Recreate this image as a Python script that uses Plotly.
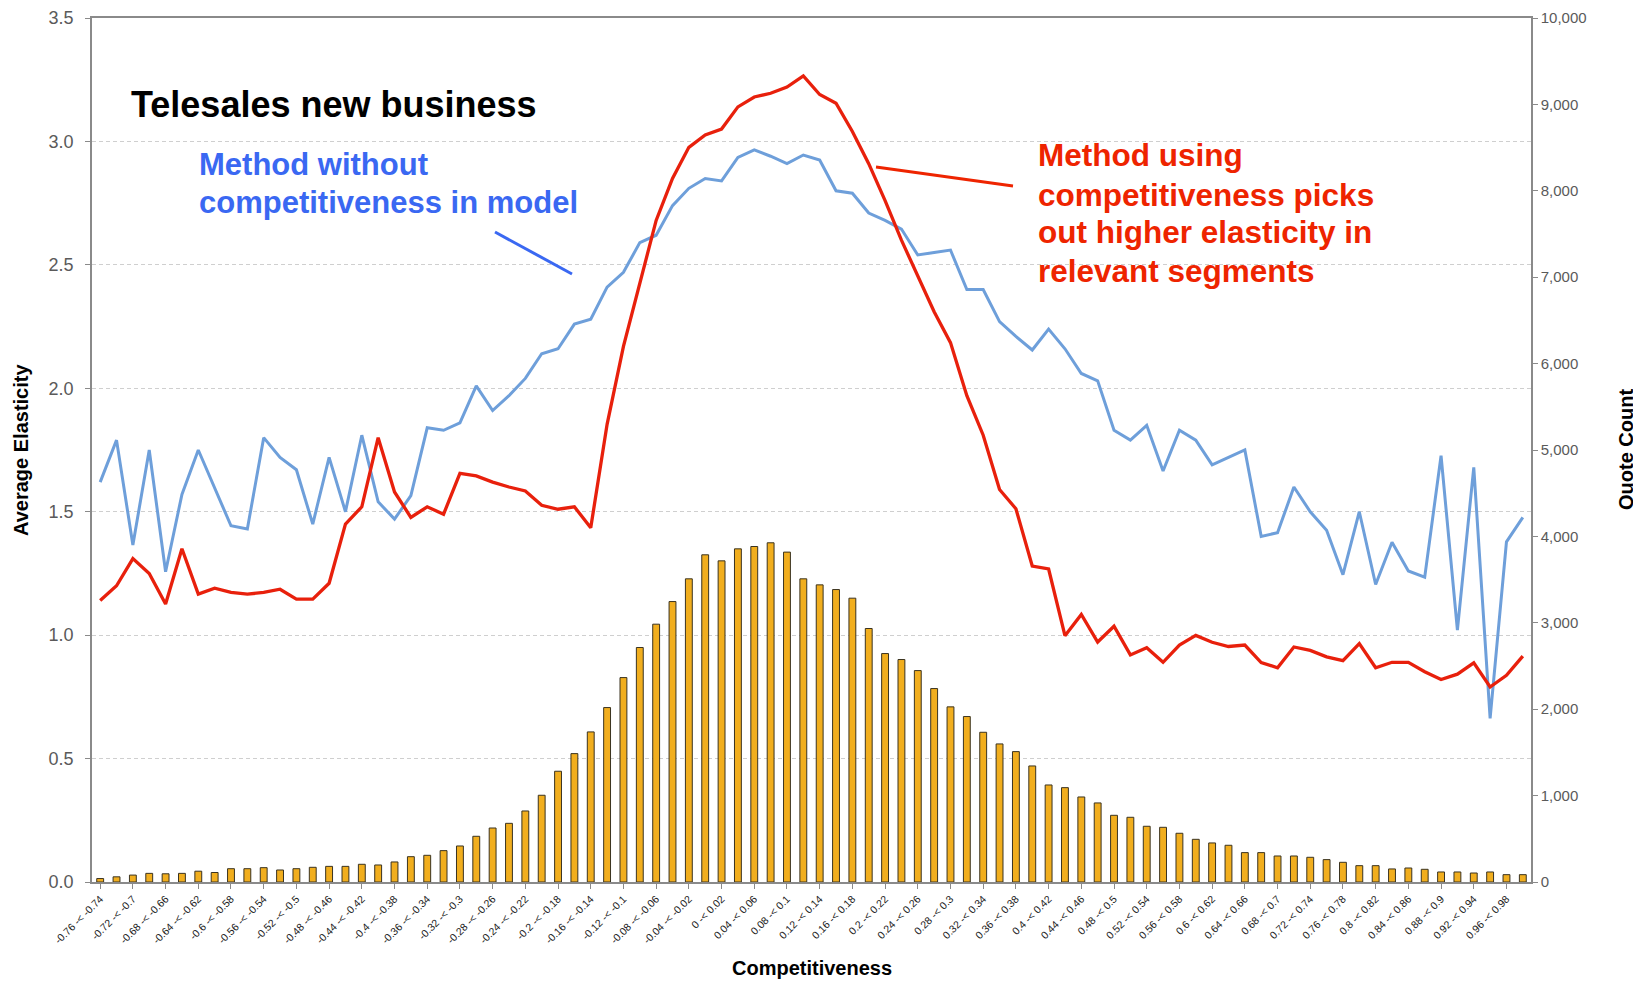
import plotly.graph_objects as go

categories = [
    "-0.76 -< -0.74", "-0.74 -< -0.72", "-0.72 -< -0.7", "-0.7 -< -0.68",
    "-0.68 -< -0.66", "-0.66 -< -0.64", "-0.64 -< -0.62", "-0.62 -< -0.6",
    "-0.6 -< -0.58", "-0.58 -< -0.56", "-0.56 -< -0.54", "-0.54 -< -0.52",
    "-0.52 -< -0.5", "-0.5 -< -0.48", "-0.48 -< -0.46", "-0.46 -< -0.44",
    "-0.44 -< -0.42", "-0.42 -< -0.4", "-0.4 -< -0.38", "-0.38 -< -0.36",
    "-0.36 -< -0.34", "-0.34 -< -0.32", "-0.32 -< -0.3", "-0.3 -< -0.28",
    "-0.28 -< -0.26", "-0.26 -< -0.24", "-0.24 -< -0.22", "-0.22 -< -0.2",
    "-0.2 -< -0.18", "-0.18 -< -0.16", "-0.16 -< -0.14", "-0.14 -< -0.12",
    "-0.12 -< -0.1", "-0.1 -< -0.08", "-0.08 -< -0.06", "-0.06 -< -0.04",
    "-0.04 -< -0.02", "-0.02 -< 0", "0 -< 0.02", "0.02 -< 0.04",
    "0.04 -< 0.06", "0.06 -< 0.08", "0.08 -< 0.1", "0.1 -< 0.12",
    "0.12 -< 0.14", "0.14 -< 0.16", "0.16 -< 0.18", "0.18 -< 0.2",
    "0.2 -< 0.22", "0.22 -< 0.24", "0.24 -< 0.26", "0.26 -< 0.28",
    "0.28 -< 0.3", "0.3 -< 0.32", "0.32 -< 0.34", "0.34 -< 0.36",
    "0.36 -< 0.38", "0.38 -< 0.4", "0.4 -< 0.42", "0.42 -< 0.44",
    "0.44 -< 0.46", "0.46 -< 0.48", "0.48 -< 0.5", "0.5 -< 0.52",
    "0.52 -< 0.54", "0.54 -< 0.56", "0.56 -< 0.58", "0.58 -< 0.6",
    "0.6 -< 0.62", "0.62 -< 0.64", "0.64 -< 0.66", "0.66 -< 0.68",
    "0.68 -< 0.7", "0.7 -< 0.72", "0.72 -< 0.74", "0.74 -< 0.76",
    "0.76 -< 0.78", "0.78 -< 0.8", "0.8 -< 0.82", "0.82 -< 0.84",
    "0.84 -< 0.86", "0.86 -< 0.88", "0.88 -< 0.9", "0.9 -< 0.92",
    "0.92 -< 0.94", "0.94 -< 0.96", "0.96 -< 0.98", "0.98 -< 1",
]

# Quote count (right axis)
quote_count = [
    40, 60, 80, 100, 95, 100, 125, 110, 154, 154,
    166, 139, 154, 170, 181, 181, 205, 197, 232, 293,
    309, 363, 417, 529, 625, 679, 822, 1004, 1282, 1486,
    1737, 2019, 2366, 2714, 2984, 3246, 3509, 3787, 3717, 3856,
    3883, 3926, 3818, 3509, 3439, 3385, 3285, 2934, 2644, 2575,
    2447, 2239, 2027, 1915, 1733, 1598, 1509, 1343, 1123, 1092,
    984, 915, 772, 749, 645, 633, 564, 494, 452, 425,
    340, 340, 301, 301, 286, 259, 228, 189, 189, 151,
    162, 147, 116, 116, 104, 116, 85, 85,
]

# Average elasticity - method without competitiveness (blue)
elasticity_without = [
    1.62, 1.79, 1.365, 1.75, 1.257, 1.57, 1.75, 1.60, 1.443, 1.43,
    1.80, 1.72, 1.67, 1.45, 1.72, 1.50, 1.81, 1.54, 1.47, 1.565,
    1.84, 1.83, 1.86, 2.01, 1.91, 1.97, 2.04, 2.14, 2.16, 2.26,
    2.28, 2.41, 2.47, 2.59, 2.62, 2.74, 2.81, 2.85, 2.84, 2.935,
    2.966, 2.94, 2.91, 2.945, 2.925, 2.80, 2.79, 2.71, 2.68, 2.645,
    2.54, 2.55, 2.56, 2.40, 2.40, 2.27, 2.21, 2.155, 2.24, 2.16,
    2.06, 2.03, 1.83, 1.79, 1.85, 1.665, 1.83, 1.79, 1.69, 1.72,
    1.75, 1.40, 1.415, 1.60, 1.50, 1.425, 1.245, 1.50, 1.205, 1.376,
    1.26, 1.235, 1.727, 1.02, 1.68, 0.663, 1.378, 1.477,
]

# Average elasticity - method using competitiveness (red)
elasticity_with = [
    1.14, 1.20, 1.31, 1.25, 1.126, 1.35, 1.166, 1.19, 1.173, 1.166,
    1.173, 1.186, 1.146, 1.146, 1.21, 1.45, 1.52, 1.80, 1.58, 1.477,
    1.52, 1.49, 1.655, 1.645, 1.62, 1.60, 1.584, 1.526, 1.51, 1.52,
    1.435, 1.854, 2.17, 2.43, 2.68, 2.85, 2.976, 3.026, 3.05, 3.14,
    3.18, 3.195, 3.22, 3.265, 3.19, 3.155, 3.04, 2.91, 2.76, 2.60,
    2.455, 2.31, 2.185, 1.97, 1.81, 1.59, 1.512, 1.28, 1.268, 0.998,
    1.084, 0.972, 1.036, 0.92, 0.949, 0.89, 0.96, 0.999, 0.971, 0.954,
    0.96, 0.889, 0.868, 0.952, 0.938, 0.912, 0.897, 0.966, 0.868, 0.89,
    0.89, 0.852, 0.82, 0.842, 0.888, 0.79, 0.837, 0.915,
]

tick_labels = categories[::2]

FONT = "Arial, Liberation Sans, sans-serif"
# the page body has an 8px margin: the figure starts at (8, 8) in the window
OFF = 8
W, H = 1641 - OFF, 985 - OFF
# plot area in window pixels
L, R, T, B = 92, 1531, 18, 882


def px(x):
    return (x - L) / (R - L)


def py(y):
    return (B - y) / (B - T)


fig = go.Figure()

fig.add_trace(go.Bar(
    x=categories, y=quote_count, yaxis="y2", name="Quote Count",
    marker=dict(color="#F1AE1E", line=dict(color="#3a3320", width=1)),
    width=0.42,
))
fig.add_trace(go.Scatter(
    x=categories, y=elasticity_without, mode="lines",
    name="Method without competitiveness",
    line=dict(color="#6E9FDA", width=3),
))
fig.add_trace(go.Scatter(
    x=categories, y=elasticity_with, mode="lines",
    name="Method using competitiveness",
    line=dict(color="#E8200C", width=3.3),
))

blue_txt = "#3A68F2"
red_txt = "#EE2400"

annotations = [
    dict(text="<b>Telesales new business</b>", x=px(129), y=py(105),
         font=dict(size=36, color="black")),
    dict(text="<b>Method without</b>", x=px(197), y=py(164),
         font=dict(size=31, color=blue_txt)),
    dict(text="<b>competitiveness in model</b>", x=px(197), y=py(203),
         font=dict(size=31, color=blue_txt)),
    dict(text="<b>Method using</b>", x=px(1036), y=py(155),
         font=dict(size=31.5, color=red_txt)),
    dict(text="<b>competitiveness picks</b>", x=px(1036), y=py(195),
         font=dict(size=31.5, color=red_txt)),
    dict(text="<b>out higher elasticity in</b>", x=px(1036), y=py(232),
         font=dict(size=31.5, color=red_txt)),
    dict(text="<b>relevant segments</b>", x=px(1036), y=py(271),
         font=dict(size=31.5, color=red_txt)),
]
for a in annotations:
    a.update(xref="paper", yref="paper", xanchor="left", yanchor="middle",
             showarrow=False)

# axis titles
annotations += [
    dict(text="<b>Average Elasticity</b>", x=px(21), y=py(450), textangle=-90,
         xref="paper", yref="paper", showarrow=False,
         xanchor="center", yanchor="middle",
         font=dict(size=20, color="black")),
    dict(text="<b>Quote Count</b>", x=px(1626), y=py(450), textangle=-90,
         xref="paper", yref="paper", showarrow=False,
         xanchor="center", yanchor="middle",
         font=dict(size=20, color="black")),
    dict(text="<b>Competitiveness</b>", x=px(812), y=py(968),
         xref="paper", yref="paper", showarrow=False,
         xanchor="center", yanchor="middle",
         font=dict(size=20, color="black")),
]

shapes = [
    dict(type="line", xref="paper", yref="paper",
         x0=px(495), y0=py(232), x1=px(572), y1=py(274),
         line=dict(color=blue_txt, width=3)),
    dict(type="line", xref="paper", yref="paper",
         x0=px(876), y0=py(167), x1=px(1013), y1=py(186),
         line=dict(color=red_txt, width=3)),
]

axis_col = "#8a8a8a"

fig.update_layout(
    width=W, height=H,
    margin=dict(l=L - OFF, r=W - (R - OFF), t=T - OFF, b=H - (B - OFF),
                pad=0, autoexpand=False),
    paper_bgcolor="white", plot_bgcolor="white",
    font=dict(family=FONT),
    showlegend=False,
    annotations=annotations,
    shapes=shapes,
    xaxis=dict(
        type="category", automargin=False,
        tickmode="array", tickvals=tick_labels, ticktext=tick_labels,
        tickangle=-45,
        tickfont=dict(family=FONT, size=10.5, color="#1a1a1a"),
        ticks="outside", ticklen=5, tickcolor=axis_col,
        showline=True, linecolor=axis_col, linewidth=1.5, mirror=True,
        showgrid=False, range=[-0.5, 87.5],
    ),
    yaxis=dict(
        automargin=False,
        range=[0, 3.5], dtick=0.5, tick0=0, tickformat=".1f",
        tickfont=dict(family=FONT, size=18, color="#5a5a5a"),
        ticks="outside", ticklen=5, tickcolor=axis_col,
        ticklabelstandoff=8,
        showline=True, linecolor=axis_col, linewidth=1.5,
        showgrid=True, gridcolor="#cfcfcf", gridwidth=1, griddash="4px,3px",
        zeroline=False,
    ),
    yaxis2=dict(
        automargin=False,
        overlaying="y", side="right",
        range=[0, 10000], dtick=1000, tick0=0, tickformat=",",
        tickfont=dict(family=FONT, size=15, color="#5a5a5a"),
        ticks="outside", ticklen=5, tickcolor=axis_col,
        showline=True, linecolor=axis_col, linewidth=1.5,
        showgrid=False, zeroline=False,
    ),
)

fig.write_html("out.html")
